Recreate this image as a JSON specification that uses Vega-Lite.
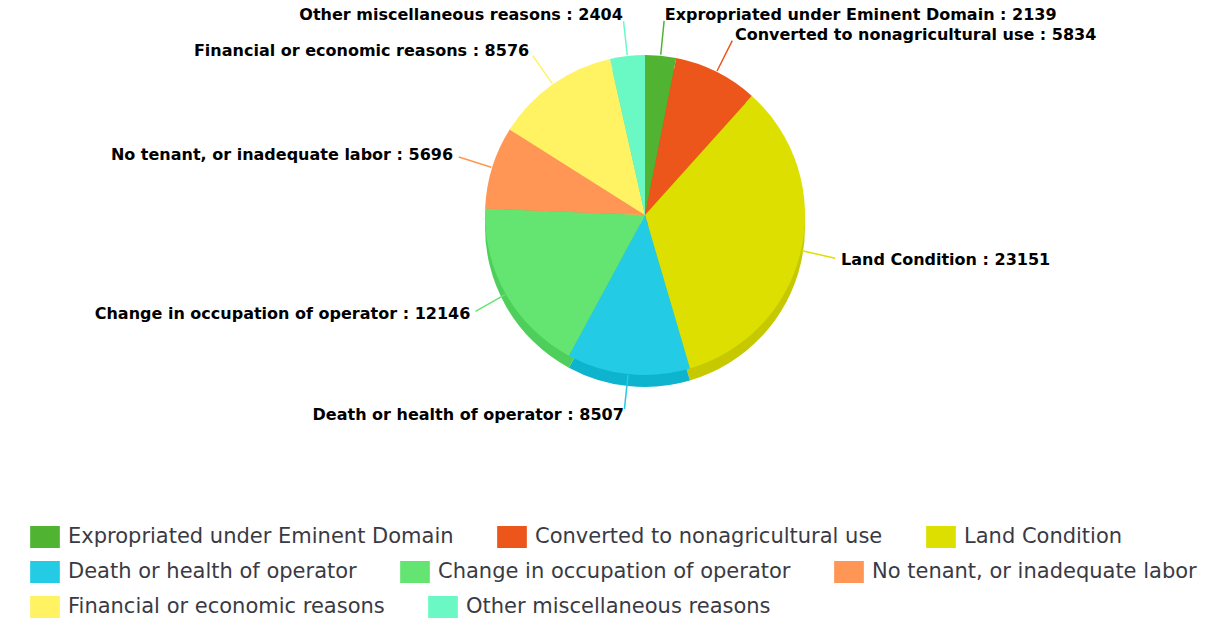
{
  "$schema": "https://vega.github.io/schema/vega-lite/v6.json",
  "width": 1166,
  "height": 430,
  "autosize": "none",
  "padding": {"left": 62, "top": 0, "right": 0, "bottom": 191},
  "background": "white",
  "config": {
    "view": {"stroke": null},
    "legend": {
      "title": null,
      "orient": "none",
      "legendX": -28,
      "direction": "horizontal",
      "columnPadding": 43,
      "symbolType": "M-1.35,-1H1.35V1H-1.35Z",
      "symbolSize": 484,
      "symbolStrokeWidth": 0,
      "symbolOpacity": 1,
      "labelFont": "DejaVu Sans",
      "labelFontSize": 21,
      "labelColor": "#3a3a44",
      "labelOffset": 12,
      "labelLimit": 600
    }
  },
  "data": {
    "values": [
      {"idx": 1, "reason": "Expropriated under Eminent Domain", "count": 2139, "label": "Expropriated under Eminent Domain : 2139"},
      {"idx": 2, "reason": "Converted to nonagricultural use", "count": 5834, "label": "Converted to nonagricultural use : 5834"},
      {"idx": 3, "reason": "Land Condition", "count": 23151, "label": "Land Condition : 23151"},
      {"idx": 4, "reason": "Death or health of operator", "count": 8507, "label": "Death or health of operator : 8507"},
      {"idx": 5, "reason": "Change in occupation of operator", "count": 12146, "label": "Change in occupation of operator : 12146"},
      {"idx": 6, "reason": "No tenant, or inadequate labor", "count": 5696, "label": "No tenant, or inadequate labor : 5696"},
      {"idx": 7, "reason": "Financial or economic reasons", "count": 8576, "label": "Financial or economic reasons : 8576"},
      {"idx": 8, "reason": "Other miscellaneous reasons", "count": 2404, "label": "Other miscellaneous reasons : 2404"}
    ]
  },
  "resolve": {"scale": {"color": "independent"}, "legend": {"color": "independent"}},
  "layer": [
    {
      "mark": {"type": "arc", "radius": 160, "yOffset": 12},
      "encoding": {
        "theta": {"field": "count", "type": "quantitative", "stack": true},
        "order": {"field": "idx", "type": "quantitative"},
        "color": {
          "field": "reason", "type": "nominal", "legend": null,
          "scale": {
            "domain": ["Expropriated under Eminent Domain", "Converted to nonagricultural use", "Land Condition", "Death or health of operator", "Change in occupation of operator", "No tenant, or inadequate labor", "Financial or economic reasons", "Other miscellaneous reasons"],
            "range": ["#3F9E24", "#D44307", "#C6C800", "#0EB4CE", "#4ECF5C", "#E8803F", "#E8DB4D", "#54E2AD"]
          }
        }
      }
    },
    {
      "mark": {"type": "arc", "radius": 160},
      "encoding": {
        "theta": {"field": "count", "type": "quantitative", "stack": true},
        "order": {"field": "idx", "type": "quantitative"},
        "color": {
          "field": "reason", "type": "nominal", "legend": null,
          "scale": {
            "domain": ["Expropriated under Eminent Domain", "Converted to nonagricultural use", "Land Condition", "Death or health of operator", "Change in occupation of operator", "No tenant, or inadequate labor", "Financial or economic reasons", "Other miscellaneous reasons"],
            "range": ["#50B432", "#ED561B", "#DDDF00", "#24CBE5", "#64E572", "#FF9655", "#FFF263", "#6AF9C4"]
          }
        }
      }
    },
    {
      "mark": {"type": "arc", "radius": 195, "radius2": 161, "padAngle": 3.14, "filled": false, "strokeWidth": 1.5},
      "encoding": {
        "theta": {"field": "count", "type": "quantitative", "stack": true},
        "order": {"field": "idx", "type": "quantitative"},
        "color": {
          "field": "reason", "type": "nominal", "legend": null,
          "scale": {
            "domain": ["Expropriated under Eminent Domain", "Converted to nonagricultural use", "Land Condition", "Death or health of operator", "Change in occupation of operator", "No tenant, or inadequate labor", "Financial or economic reasons", "Other miscellaneous reasons"],
            "range": ["#50B432", "#ED561B", "#DDDF00", "#24CBE5", "#64E572", "#FF9655", "#FFF263", "#6AF9C4"]
          }
        }
      }
    },
    {
      "mark": {
        "type": "text",
        "radius": 201,
        "font": "DejaVu Sans",
        "fontWeight": "bold",
        "fontSize": 16,
        "fill": "#000000",
        "baseline": "middle",
        "align": {"expr": "indexof(['Expropriated under Eminent Domain','Converted to nonagricultural use','Land Condition'], datum.reason) >= 0 ? 'left' : 'right'"}
      },
      "encoding": {
        "theta": {"field": "count", "type": "quantitative", "stack": true},
        "order": {"field": "idx", "type": "quantitative"},
        "text": {"field": "label", "type": "nominal"}
      }
    },
    {
      "transform": [{"filter": {"field": "idx", "range": [1, 3]}}],
      "mark": {"type": "text", "text": ""},
      "encoding": {
        "color": {
          "field": "reason", "type": "nominal",
          "scale": {
            "domain": ["Expropriated under Eminent Domain", "Converted to nonagricultural use", "Land Condition"],
            "range": ["#50B432", "#ED561B", "#DDDF00"]
          },
          "legend": {"legendY": 526, "columns": 3}
        }
      }
    },
    {
      "transform": [{"filter": {"field": "idx", "range": [4, 6]}}],
      "mark": {"type": "text", "text": ""},
      "encoding": {
        "color": {
          "field": "reason", "type": "nominal",
          "scale": {
            "domain": ["Death or health of operator", "Change in occupation of operator", "No tenant, or inadequate labor"],
            "range": ["#24CBE5", "#64E572", "#FF9655"]
          },
          "legend": {"legendY": 561, "columns": 3}
        }
      }
    },
    {
      "transform": [{"filter": {"field": "idx", "range": [7, 8]}}],
      "mark": {"type": "text", "text": ""},
      "encoding": {
        "color": {
          "field": "reason", "type": "nominal",
          "scale": {
            "domain": ["Financial or economic reasons", "Other miscellaneous reasons"],
            "range": ["#FFF263", "#6AF9C4"]
          },
          "legend": {"legendY": 596, "columns": 2}
        }
      }
    }
  ]
}
